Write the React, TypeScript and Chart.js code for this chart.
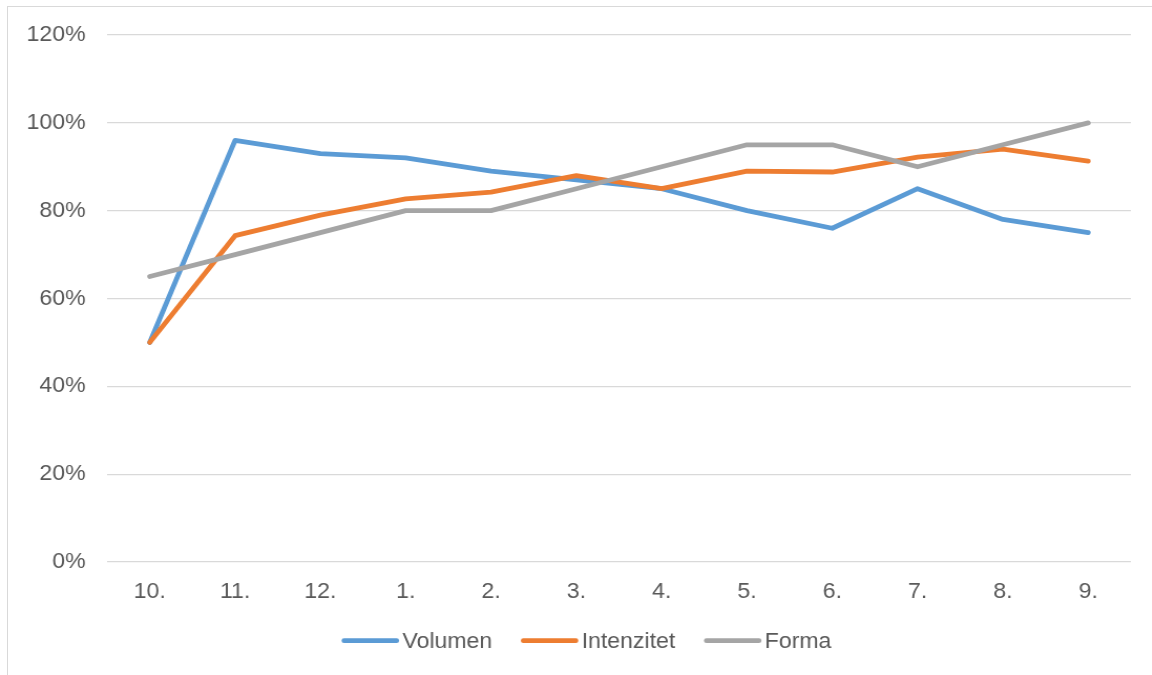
import React, { useEffect, useRef } from "react";
import { Chart, registerables } from "chart.js";

Chart.register(...registerables);

const categories = ["10.", "11.", "12.", "1.", "2.", "3.", "4.", "5.", "6.", "7.", "8.", "9."];
const volumen = [50, 96, 93, 92, 89, 87, 85, 80, 76, 85, 78, 75];
const intenzitet = [50, 74.3, 79, 82.7, 84.2, 88, 85, 89, 88.8, 92.2, 94, 91.3];
const forma = [65, 70, 75, 80, 80, 85, 90, 95, 95, 90, 95, 100];
const yTicks = [0, 20, 40, 60, 80, 100, 120];

const FONT = "'Liberation Sans', Arial, sans-serif";
const FSIZE = 22;
const SX = 1.05;
const CW = Math.round(1152 / SX);
const CH = 675;
const LW = 4.8;

const bottomLegend = {
  id: "bottomLegend",
  afterDraw(chart: any) {
    const ctx = chart.ctx as CanvasRenderingContext2D;
    const ds = chart.data.datasets;
    const lineLen = 50;
    const gapText = 5.5;
    const gapItem = 29.6;
    const cap = LW / 2;
    ctx.save();
    ctx.font = `${FSIZE}px ${FONT}`;
    const widths = ds.map((d: any) => ctx.measureText(d.label).width);
    let total = cap;
    widths.forEach((w: number, i: number) => {
      total += lineLen + gapText + w + (i < widths.length - 1 ? gapItem : 0);
    });
    const center = 586.5 / SX;
    let x = center - total / 2 + cap;
    const lineY = 640.7;
    const textY = 648.3;
    ds.forEach((d: any, i: number) => {
      ctx.beginPath();
      ctx.strokeStyle = d.borderColor;
      ctx.lineWidth = LW;
      ctx.lineCap = "round";
      ctx.moveTo(x, lineY);
      ctx.lineTo(x + lineLen, lineY);
      ctx.stroke();
      ctx.fillStyle = "#595959";
      ctx.textBaseline = "alphabetic";
      ctx.textAlign = "left";
      ctx.fillText(d.label, x + lineLen + gapText, textY);
      x += lineLen + gapText + widths[i] + gapItem;
    });
    ctx.restore();
  },
};

export default function App() {
  const ref = useRef<HTMLCanvasElement | null>(null);

  useEffect(() => {
    if (!ref.current) return;
    const mk = (label: string, data: number[], color: string, order: number) => ({
      label,
      data,
      borderColor: color,
      backgroundColor: color,
      borderWidth: LW,
      borderCapStyle: "round" as const,
      borderJoinStyle: "round" as const,
      pointRadius: 0,
      tension: 0,
      order,
    });
    const chart = new Chart(ref.current, {
      type: "line",
      data: {
        labels: categories,
        datasets: [
          mk("Volumen", volumen, "#5B9BD5", 3),
          mk("Intenzitet", intenzitet, "#ED7D31", 2),
          mk("Forma", forma, "#A5A5A5", 1),
        ],
      },
      plugins: [bottomLegend],
      options: {
        animation: false,
        responsive: false,
        maintainAspectRatio: false,
        layout: { padding: { top: 35, right: 20, bottom: 71, left: 0 } },
        plugins: {
          tooltip: { enabled: false },
          legend: { display: false },
        },
        scales: {
          x: {
            offset: true,
            grid: { display: false, drawTicks: false },
            border: { display: false },
            ticks: { color: "#595959", font: { family: FONT, size: FSIZE }, padding: 16.5, maxRotation: 0 },
            afterFit: (s: any) => {
              s.height = 42;
            },
          },
          y: {
            min: 0,
            max: 120,
            afterBuildTicks: (s: any) => {
              s.ticks = yTicks.map((v) => ({ value: v }));
            },
            grid: { color: "#D9D9D9", lineWidth: 1.2, drawTicks: false },
            border: { display: false },
            ticks: {
              color: "#595959",
              font: { family: FONT, size: FSIZE },
              padding: 20.5,
              callback: (v: any) => v + "%",
            },
            afterFit: (s: any) => {
              s.width = 102;
            },
          },
        },
      },
    });
    return () => chart.destroy();
  }, []);

  return (
    <div style={{ position: "fixed", left: 0, top: 0, width: "100vw", height: "100vh", overflow: "hidden", background: "#fff" }}>
      <div
        style={{
          position: "absolute",
          left: 7,
          top: 6,
          width: 3000,
          height: 3000,
          borderTop: "1px solid #D9D9D9",
          borderLeft: "1px solid #D9D9D9",
        }}
      />
      <canvas
        ref={ref}
        width={CW}
        height={CH}
        style={{
          position: "absolute",
          left: 0,
          top: 0,
          width: CW,
          height: CH,
          transform: `scaleX(${SX})`,
          transformOrigin: "0 0",
        }}
      />
    </div>
  );
}
